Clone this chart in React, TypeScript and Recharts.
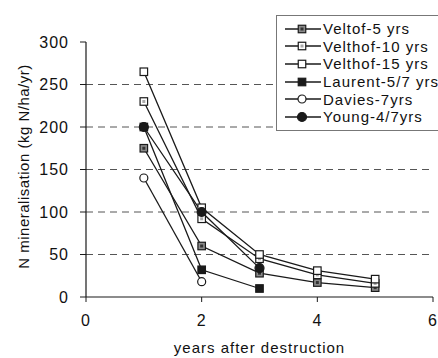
import { LineChart, Line, XAxis, YAxis, CartesianGrid, Label } from 'recharts'

// years after destruction, one value per year from year 1
const years = [1, 2, 3, 4, 5]
const veltof5 = [175, 60, 28, 17, 11]
const velthof10 = [230, 92, 45, 26, 16]
const velthof15 = [265, 105, 50, 31, 21]
const laurent = [200, 32, 10]
const davies = [140, 18]
const young = [200, 100, 34]

const xTicks = [0, 2, 4, 6]
const yTicks = [0, 50, 100, 150, 200, 250, 300]

type Kind = 'sqDark' | 'sqGrey' | 'sqOpen' | 'sqFilled' | 'circOpen' | 'circFilled'

const toPoints = (vals: number[]) => vals.map((v, i) => ({ year: years[i], value: v }))

const SERIES: { name: string; vals: number[]; kind: Kind }[] = [
    { name: 'Veltof-5 yrs', vals: veltof5, kind: 'sqDark' },
    { name: 'Velthof-10 yrs', vals: velthof10, kind: 'sqGrey' },
    { name: 'Velthof-15 yrs', vals: velthof15, kind: 'sqOpen' },
    { name: 'Laurent-5/7 yrs', vals: laurent, kind: 'sqFilled' },
    { name: 'Davies-7yrs', vals: davies, kind: 'circOpen' },
    { name: 'Young-4/7yrs', vals: young, kind: 'circFilled' },
]

const INK = '#1a1a1a'
const FONT = '"Liberation Sans", Arial, sans-serif'

function Marker({ cx, cy, kind }: { cx: number; cy: number; kind: Kind }) {
    const s = 7.5
    if (kind === 'circOpen' || kind === 'circFilled') {
        return <circle cx={cx} cy={cy} r={kind === 'circFilled' ? 4.5 : 4} fill={kind === 'circFilled' ? INK : '#fff'} stroke={INK} strokeWidth={1.2} />
    }
    const fill = kind === 'sqFilled' ? INK : kind === 'sqDark' ? '#8a8a8a' : '#fff'
    return (
        <g>
            <rect x={cx - s / 2} y={cy - s / 2} width={s} height={s} fill={fill} stroke={INK} strokeWidth={1.2} />
            {kind === 'sqDark' && <rect x={cx - 1.5} y={cy - 1.5} width={3} height={3} fill="#333" />}
            {kind === 'sqGrey' && <rect x={cx - 1.5} y={cy - 1.5} width={3} height={3} fill="#aaa" />}
        </g>
    )
}

// legend box sits over the top right of the plot and runs off the right edge
function LegendBox() {
    return (
        <div style={{ position: 'absolute', left: 276, top: 15, width: 200, border: '1px solid #777', padding: '4px 0 4px 8px', background: '#fff', fontFamily: FONT }}>
            {SERIES.map(s => (
                <div key={s.name} style={{ display: 'flex', alignItems: 'center', height: 17.6 }}>
                    <svg width={36} height={12} style={{ flex: 'none' }}>
                        <line x1={0} y1={6} x2={36} y2={6} stroke={INK} strokeWidth={1.3} />
                        <Marker cx={17} cy={6} kind={s.kind} />
                    </svg>
                    <span style={{ marginLeft: 2, fontSize: 15, letterSpacing: 1, color: '#111', whiteSpace: 'nowrap', lineHeight: '17px' }}>{s.name}</span>
                </div>
            ))}
        </div>
    )
}

export default function App() {
    return (
        <div style={{ position: 'absolute', left: 0, top: 0, width: 438, height: 358, background: '#fff', overflow: 'hidden' }}>
            <LineChart width={438} height={358} margin={{ top: 42, right: 5, bottom: 0, left: 0 }}>
                <CartesianGrid vertical={false} stroke="#555" strokeDasharray="7 5" horizontalValues={[50, 100, 150, 200, 250]} />
                <XAxis type="number" dataKey="year" domain={[0, 6]} ticks={xTicks} height={61}
                    axisLine={{ stroke: INK, strokeWidth: 1.2 }} tickLine={{ stroke: INK }} tickSize={5} tickMargin={13}
                    tick={{ fill: '#111', fontSize: 16, fontFamily: FONT, letterSpacing: 1 }} allowDuplicatedCategory={false}>
                    <Label content={({ viewBox }: any) => (
                        <text x={viewBox.x + viewBox.width / 2} y={353} textAnchor="middle" fontSize={15} letterSpacing={1} fontFamily={FONT} fill="#111">years after destruction</text>
                    )} />
                </XAxis>
                <YAxis type="number" domain={[0, 300]} ticks={yTicks} width={86} interval={0}
                    axisLine={{ stroke: INK, strokeWidth: 1.2 }} tickLine={{ stroke: INK }} tickSize={6} tickMargin={11}
                    tick={{ fill: '#111', fontSize: 16, fontFamily: FONT, letterSpacing: 1 }}>
                    <Label content={({ viewBox }: any) => {
                        const cy = viewBox.y + viewBox.height / 2 - 3
                        return (
                            <text x={23} y={cy} transform={`rotate(-90 23 ${cy})`} textAnchor="middle" dominantBaseline="central" fontSize={15} letterSpacing={0.5} fontFamily={FONT} fill="#111">N mineralisation (kg N/ha/yr)</text>
                        )
                    }} />
                </YAxis>
                {SERIES.map(s => (
                    <Line key={s.name} data={toPoints(s.vals)} dataKey="value" name={s.name} type="linear"
                        stroke={INK} strokeWidth={1.3} isAnimationActive={false}
                        dot={(p: any) => <Marker key={`${s.name}-${p.index}`} cx={p.cx} cy={p.cy} kind={s.kind} />}
                        activeDot={false} />
                ))}
            </LineChart>
            <LegendBox />
        </div>
    )
}
